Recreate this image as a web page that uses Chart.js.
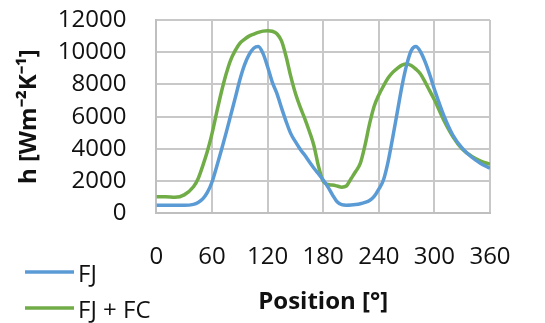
<!DOCTYPE html>
<html>
<head>
<meta charset="utf-8">
<script src="https://cdn.jsdelivr.net/npm/chart.js@4"></script>
<style>
	html, body { margin: 0; padding: 0; background: #fff; }
	.chart { width: 545px; height: 323px; }
</style>
</head>
<body>
<div class="chart"><canvas class="chart__canvas"></canvas></div>
<script>
// position [deg]
const positions = [0, 10, 20, 30, 40, 45, 50, 55, 60, 65, 70, 75, 80, 85, 90, 95, 100, 105, 110, 115,
	120, 125, 130, 135, 140, 145, 150, 155, 160, 165, 170, 175, 180, 185, 190, 195, 200, 205, 210, 215,
	220, 225, 230, 235, 240, 245, 250, 255, 260, 265, 270, 275, 280, 285, 290, 295, 300, 310, 320, 330,
	340, 350, 360];

const fj = [500, 500, 500, 500, 560, 680, 900, 1300, 1950, 2900, 3900, 4950, 6050, 7150, 8280, 9200,
	9850, 10250, 10350, 9930, 9100, 8150, 7450, 6550, 5700, 4950, 4450, 4000, 3620, 3200, 2800, 2450,
	2070, 1650, 1150, 720, 540, 510, 520, 550, 600, 680, 800, 1050, 1500, 2070, 3200, 4700, 6300, 7900,
	9200, 10100, 10350, 10030, 9400, 8600, 7700, 6100, 4850, 4050, 3500, 3100, 2800];

const fjfc = [1030, 1040, 1000, 1150, 1650, 2150, 2950, 3850, 4950, 6250, 7500, 8600, 9500, 10100,
	10550, 10800, 11000, 11120, 11230, 11310, 11340, 11300, 11150, 10700, 9720, 8500, 7450, 6620, 5900,
	5100, 4200, 2900, 2000, 1800, 1760, 1700, 1630, 1700, 2150, 2600, 3100, 4200, 5550, 6650, 7350, 7900,
	8400, 8750, 9000, 9200, 9270, 9180, 8950, 8650, 8150, 7600, 7050, 5800, 4760, 4000, 3550, 3250, 3050];

const labels = ["FJ", "FJ + FC"];
const colors = ["#5b9bd5", "#70ad47"];
const xTicks = [0, 60, 120, 180, 240, 300, 360];
const yTicks = [0, 2000, 4000, 6000, 8000, 10000, 12000];

const font = "'Open Sans', 'Liberation Sans', sans-serif";
const textColor = "#111";
const gridColor = "#c8c8c8";

function toPoints(values) {
	return positions.map((pos, i) => ({ x: pos, y: values[i] }));
}

// legend sits bottom-left, stacked, like the original
const sideLegend = {
	id: "sideLegend",
	afterDraw(chart) {
		const ctx = chart.ctx;
		const rows = [272, 308];
		ctx.save();
		chart.data.datasets.forEach((ds, i) => {
			ctx.strokeStyle = ds.borderColor;
			ctx.lineWidth = 3.5;
			ctx.beginPath();
			ctx.moveTo(25, rows[i]);
			ctx.lineTo(74, rows[i]);
			ctx.stroke();
			ctx.fillStyle = textColor;
			ctx.font = "24px " + font;
			ctx.textBaseline = "middle";
			ctx.fillText(ds.label, 78, rows[i] + 3);
		});
		ctx.restore();
	},
};

const tickFont = { family: font, size: 24 };

// tick marks are invisible, their length only makes the gap to the labels
function configChart() {
	return {
		type: "line",
		data: {
			datasets: [
				{
					label: labels[0],
					data: toPoints(fj),
					borderColor: colors[0],
					borderWidth: 3.5,
					pointRadius: 0,
					cubicInterpolationMode: "monotone",
				},
				{
					label: labels[1],
					data: toPoints(fjfc),
					borderColor: colors[1],
					borderWidth: 3.5,
					pointRadius: 0,
					cubicInterpolationMode: "monotone",
				},
			],
		},
		options: {
			responsive: false,
			animation: false,
			layout: { padding: { top: 20, right: 55, bottom: 6, left: 0 } },
			plugins: { legend: { display: false }, tooltip: { enabled: false } },
			scales: {
				x: {
					type: "linear",
					min: 0,
					max: 360,
					afterBuildTicks: (axis) => { axis.ticks = xTicks.map((v) => ({ value: v })); },
					grid: {
						display: true,
						drawOnChartArea: true,
						color: gridColor,
						lineWidth: 2,
						tickLength: 29,
						tickColor: "#ffffff",
					},
					border: { display: true, color: "#bfbfbf", width: 2 },
					ticks: {
						padding: 0,
						color: textColor,
						font: tickFont,
						autoSkip: false,
						maxRotation: 0,
						minRotation: 0,
						callback: (v) => String(v),
					},
					title: {
						display: true,
						text: "Position [°]",
						color: textColor,
						font: { family: font, size: 24, weight: "bold" },
						padding: { top: 17, bottom: 0 },
					},
				},
				y: {
					min: 0,
					max: 12000,
					afterBuildTicks: (axis) => { axis.ticks = yTicks.map((v) => ({ value: v })); },
					grid: {
						display: true,
						drawOnChartArea: true,
						color: gridColor,
						lineWidth: 2,
						tickLength: 30,
						tickColor: "#ffffff",
					},
					border: { display: true, color: "#bfbfbf", width: 2 },
					ticks: {
						padding: 0,
						color: textColor,
						font: tickFont,
						autoSkip: false,
						callback: (v) => String(v),
					},
					title: {
						display: true,
						text: "h [Wm⁻²K⁻¹]",
						color: textColor,
						font: { family: font, size: 24, weight: "bold" },
						padding: { top: 15, bottom: 14 },
					},
				},
			},
		},
		plugins: [sideLegend],
	};
}

const canvas = document.querySelector(".chart__canvas");
canvas.width = 545;
canvas.height = 323;
new Chart(canvas, configChart());
</script>
</body>
</html>
